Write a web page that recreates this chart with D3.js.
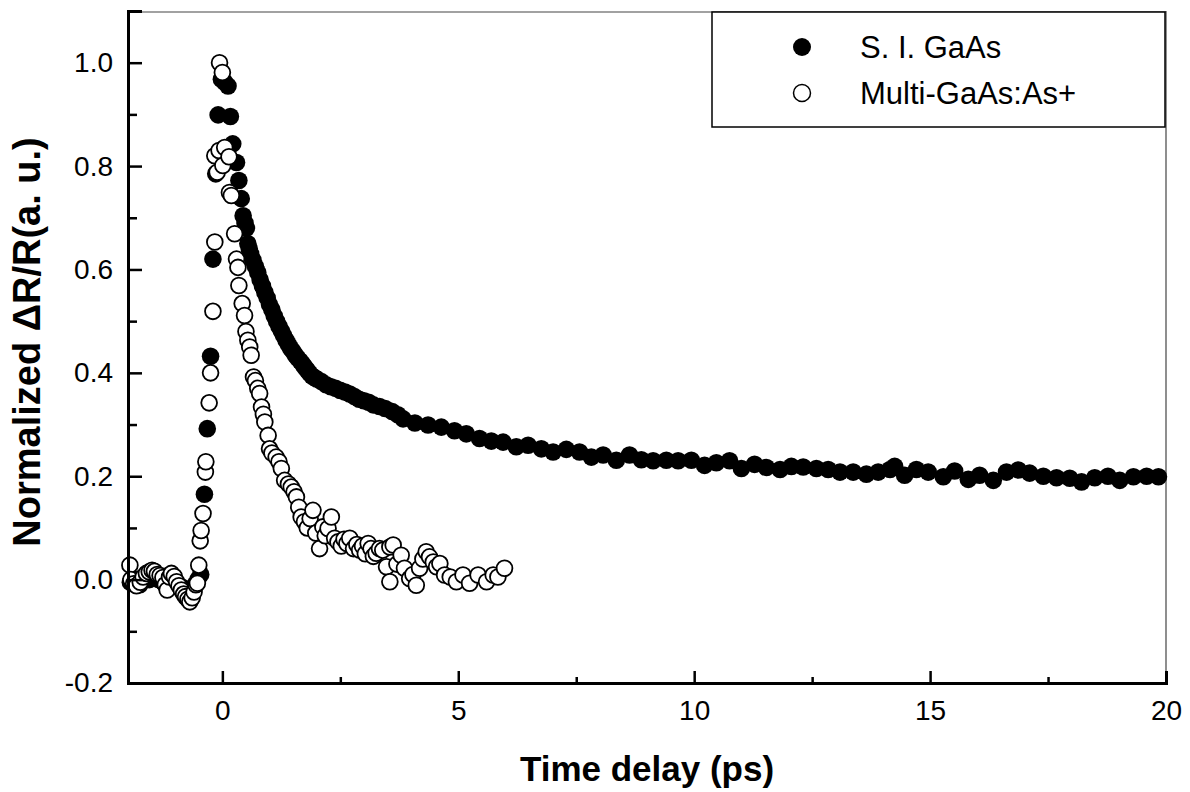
<!DOCTYPE html>
<html>
<head>
<meta charset="utf-8">
<script src="https://cdn.jsdelivr.net/npm/d3@7"></script>
<style>
  html, body { margin: 0; padding: 0; background: #fff; }
  svg { display: block; }
  text { font-family: "Liberation Sans", Arial, sans-serif; fill: #000; }
</style>
</head>
<body>
<svg id="chart" width="1190" height="792"></svg>
<script>
// ---------------- data ----------------
const seriesNames = ["S. I. GaAs", "Multi-GaAs:As+"];

const siX = [
  -1.95,-1.85,-1.75,-1.65,-1.55,-1.45,-1.35,-1.25,-1.15,-1.05,-0.95,-0.85,-0.78,-0.72,-0.65,-0.58,-0.52,-0.46,
  -0.38,-0.32,-0.25,-0.20,-0.14,-0.09,-0.02,0.05,0.12,0.17,0.22,0.30,0.35,0.40,0.44,0.48,0.51,0.54,0.57,
  0.60,0.65,0.70,0.75,0.80,0.85,0.90,0.95,1.00,1.05,1.10,1.15,1.20,1.25,1.30,1.35,1.40,1.45,1.50,1.55,1.60,1.65,1.70,1.75,1.80,1.85,1.90,1.95,
  2.00,2.10,2.20,2.30,2.40,2.50,2.60,2.70,2.80,2.90,3.00,3.10,3.20,3.33,3.45,3.60,3.72,
  3.83,4.08,4.36,4.64,4.92,5.17,5.45,5.70,5.95,6.23,6.48,6.76,7.01,7.29,7.57,7.82,8.07,8.35,8.63,8.88,9.13,9.41,9.66,9.94,10.22,10.47,10.75,11.00,11.28,11.53,11.82,12.06,
  12.31,12.59,12.84,13.09,13.37,13.65,13.90,14.15,14.25,14.46,14.71,14.96,15.28,15.52,15.81,16.05,16.34,16.62,16.87,17.11,17.40,17.68,17.96,18.21,18.49,18.77,19.02,19.31,19.59,19.84
];
const siY = [
  -0.005,0.000,-0.010,0.005,0.000,0.010,0.000,-0.005,0.008,0.000,-0.010,-0.015,-0.020,-0.025,-0.020,-0.010,0.000,0.010,
  0.165,0.292,0.432,0.620,0.785,0.899,0.968,0.962,0.955,0.896,0.843,0.807,0.772,0.737,0.704,0.690,0.680,0.650,0.640,
  0.630,0.618,0.606,0.594,0.580,0.568,0.556,0.545,0.532,0.522,0.510,0.500,0.490,0.481,0.472,0.463,0.455,0.447,0.441,0.434,0.428,0.423,0.417,0.411,0.405,0.399,0.394,0.391,
  0.388,0.383,0.377,0.373,0.370,0.366,0.363,0.359,0.354,0.349,0.346,0.343,0.338,0.335,0.331,0.325,0.319,
  0.311,0.303,0.299,0.295,0.288,0.282,0.273,0.268,0.266,0.257,0.260,0.253,0.247,0.252,0.247,0.237,0.241,0.231,0.241,0.232,0.230,0.231,0.230,0.231,0.221,0.226,0.230,0.215,0.223,0.217,0.213,0.219,
  0.218,0.215,0.213,0.208,0.208,0.204,0.208,0.213,0.219,0.202,0.213,0.208,0.199,0.210,0.194,0.202,0.192,0.208,0.212,0.206,0.200,0.197,0.196,0.189,0.197,0.200,0.192,0.199,0.200,0.199
];

const mgX = [
  -1.96,-1.94,-1.88,-1.82,-1.74,-1.68,-1.61,-1.55,-1.49,-1.44,-1.38,-1.32,-1.26,-1.21,-1.17,-1.12,-1.08,-1.02,-0.97,-0.92,-0.87,-0.82,-0.78,-0.73,-0.69,-0.64,-0.60,-0.56,-0.53,-0.50,
  -0.47,-0.45,-0.41,-0.36,-0.35,-0.28,-0.25,-0.20,-0.16,-0.16,-0.11,-0.07,-0.06,0.00,0.01,0.05,0.14,0.15,0.19,0.26,0.30,0.33,0.35,
  0.42,0.47,0.50,0.54,0.58,0.61,0.66,0.70,0.75,0.79,0.83,0.87,0.90,0.97,1.00,1.05,1.14,1.20,1.25,1.32,1.40,1.46,1.52,1.57,1.62,1.67,1.74,1.80,1.86,1.92,1.98,
  2.06,2.13,2.18,2.24,2.31,2.38,2.45,2.52,2.58,2.64,2.70,2.78,2.85,2.91,2.97,3.03,3.09,3.15,3.20,3.26,3.33,3.40,3.48,3.55,3.55,3.62,3.70,3.79,3.86,3.97,
  4.04,4.11,4.18,4.25,4.32,4.39,4.47,4.54,4.61,4.71,4.83,4.96,5.10,5.24,5.42,5.60,5.74,5.84,5.98
];
const mgY = [
  0.028,0.000,-0.008,-0.012,-0.005,0.005,0.012,0.015,0.018,0.016,0.010,0.008,0.004,-0.010,-0.020,0.005,0.012,0.006,-0.004,-0.012,-0.020,-0.028,-0.033,-0.038,-0.043,-0.035,-0.024,-0.010,-0.007,0.028,
  0.075,0.095,0.128,0.208,0.228,0.342,0.400,0.519,0.653,0.820,0.788,0.830,1.000,0.981,0.801,0.836,0.818,0.749,0.743,0.669,0.620,0.604,0.569,
  0.534,0.511,0.480,0.463,0.450,0.434,0.392,0.385,0.370,0.360,0.334,0.320,0.305,0.279,0.253,0.245,0.237,0.228,0.215,0.192,0.185,0.179,0.170,0.160,0.140,0.121,0.112,0.100,0.118,0.134,0.090,
  0.060,0.102,0.085,0.099,0.121,0.080,0.073,0.065,0.078,0.070,0.080,0.060,0.068,0.057,0.065,0.050,0.070,0.060,0.045,0.051,0.060,0.057,0.025,0.063,-0.004,0.067,0.030,0.047,0.022,0.002,
  0.010,-0.011,0.022,0.040,0.054,0.044,0.034,0.025,0.031,0.009,0.005,-0.004,0.009,-0.007,0.009,-0.004,0.009,0.005,0.022
];

const xMajorTicks = [0, 5, 10, 15, 20];
const xMinorTicks = [2.5, 7.5, 12.5, 17.5];
const yMajorTicks = [-0.2, 0.0, 0.2, 0.4, 0.6, 0.8, 1.0];
const yMinorTicks = [-0.1, 0.1, 0.3, 0.5, 0.7, 0.9];
const xTitle = "Time delay (ps)";
const yTitle = "Normalized \u0394R/R(a. u.)";

// ---------------- layout ----------------
const svg = d3.select("#chart");
const L = 128, R = 1166, T = 11, B = 683;

const x = d3.scaleLinear().domain([-2, 20]).range([L, R]);
const y = d3.scaleLinear().domain([-0.2, 1.1]).range([B, T]);

// frame: top & right thin
svg.append("line").attr("x1", L).attr("x2", R).attr("y1", T + 1).attr("y2", T + 1)
  .attr("stroke", "#444").attr("stroke-width", 1.2);
svg.append("line").attr("x1", R).attr("x2", R).attr("y1", T).attr("y2", B)
  .attr("stroke", "#444").attr("stroke-width", 1.2);

// data
const siData = siX.map((d, i) => [d, siY[i]]);
const mgData = mgX.map((d, i) => [d, mgY[i]]);

svg.append("g").selectAll("circle").data(siData).join("circle")
  .attr("cx", d => x(d[0])).attr("cy", d => y(d[1])).attr("r", 8.8)
  .attr("fill", "#000");

svg.append("g").selectAll("circle").data(mgData).join("circle")
  .attr("cx", d => x(d[0])).attr("cy", d => y(d[1])).attr("r", 7.9)
  .attr("fill", "#fff").attr("stroke", "#000").attr("stroke-width", 1.8);

// axes (ticks inward)
const fmtY = d => d3.format(".1f")(d).replace("\u2212", "-");
const xAxis = d3.axisBottom(x).tickValues(xMajorTicks).tickSize(-12).tickPadding(17)
  .tickFormat(d3.format("d"));
const gx = svg.append("g").attr("transform", `translate(0,${B})`).call(xAxis);
gx.select(".domain").attr("stroke", "#000").attr("stroke-width", 3);
gx.selectAll(".tick line").attr("stroke", "#000").attr("stroke-width", 2.5);
gx.selectAll(".tick text").attr("font-size", 28).attr("font-family", "Liberation Sans, Arial, sans-serif");
const xMinor = d3.axisBottom(x).tickValues(xMinorTicks).tickSize(-6).tickFormat("");
const gxm = svg.append("g").attr("transform", `translate(0,${B})`).call(xMinor);
gxm.select(".domain").remove();
gxm.selectAll(".tick line").attr("stroke", "#000").attr("stroke-width", 2.5);

const yAxis = d3.axisLeft(y).tickValues(yMajorTicks).tickSize(-14).tickPadding(15)
  .tickFormat(fmtY);
const gy = svg.append("g").attr("transform", `translate(${L},0)`).call(yAxis);
gy.select(".domain").attr("stroke", "#000").attr("stroke-width", 3);
gy.selectAll(".tick line").attr("stroke", "#000").attr("stroke-width", 2.5);
gy.selectAll(".tick text").attr("font-size", 28).attr("font-family", "Liberation Sans, Arial, sans-serif");
const yMinor = d3.axisLeft(y).tickValues(yMinorTicks).tickSize(-9).tickFormat("");
const gym = svg.append("g").attr("transform", `translate(${L},0)`).call(yMinor);
gym.select(".domain").remove();
gym.selectAll(".tick line").attr("stroke", "#000").attr("stroke-width", 2.5);

// titles
svg.append("text").attr("x", (L + R) / 2).attr("y", 781).attr("text-anchor", "middle")
  .attr("font-size", 35).attr("font-weight", "bold").text(xTitle);
svg.append("text").attr("transform", `translate(40,342) rotate(-90)`).attr("text-anchor", "middle")
  .attr("font-size", 38).attr("font-weight", "bold").text(yTitle);

// legend
const lg = svg.append("g");
lg.append("rect").attr("x", 712).attr("y", 12).attr("width", 453).attr("height", 115)
  .attr("fill", "#fff").attr("stroke", "#000").attr("stroke-width", 1.5);
lg.append("circle").attr("cx", 802).attr("cy", 47).attr("r", 9).attr("fill", "#000");
lg.append("circle").attr("cx", 802).attr("cy", 93).attr("r", 8.5)
  .attr("fill", "#fff").attr("stroke", "#000").attr("stroke-width", 1.5);
lg.append("text").attr("x", 860).attr("y", 58).attr("font-size", 31).text(seriesNames[0]);
lg.append("text").attr("x", 860).attr("y", 104).attr("font-size", 31).text(seriesNames[1]);
</script>
</body>
</html>
